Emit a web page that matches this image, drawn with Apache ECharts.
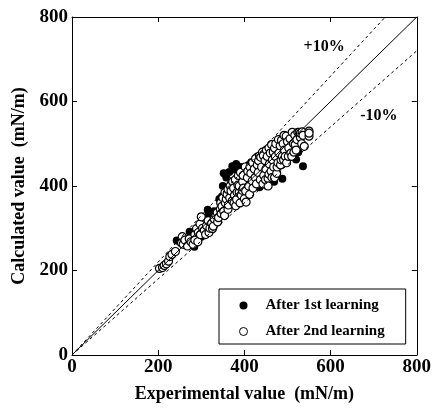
<!DOCTYPE html>
<html>
<head>
<meta charset="utf-8">
<script src="https://cdn.jsdelivr.net/npm/echarts@6/dist/echarts.min.js"></script>
<style>
html,body{margin:0;padding:0;background:#fff;}
#chart{width:434px;height:408px;}
</style>
</head>
<body>
<div id="chart"></div>
<script>
// axis ticks
var axisTicks = [0, 200, 400, 600, 800];

// reference lines
var lineEqual = [[0, 0], [800, 800]];
var linePlus10 = [[0, 0], [727, 800]];
var lineMinus10 = [[0, 0], [800, 720]];
var bandLabels = [[585, 729, '+10%'], [712, 565, '-10%']];

// After 1st learning (filled)
var firstLearning = [
  [243,271],[250,268],[273,292],[284,256],[290,275],[300,280],[306,290],[315,344],[317,332],
  [322,320],[330,340],[342,369],[348,375],[350,400],[352,430],[358,420],[365,433],[368,405],
  [372,447],[372,412],[378,440],[381,452],[384,433],[388,420],[392,445],[400,440],[405,415],
  [410,450],[416,456],[420,430],[425,460],[430,470],[435,397],[440,420],[445,450],[453,400],
  [460,440],[469,410],[475,460],[480,485],[488,417],[492,494],[495,480],[500,510],[505,495],
  [512,500],[520,463],[525,480],[536,447]
];

// After 2nd learning (open)
var secondLearning = [
  [203,205],[210,207],[214,212],[219,216],[224,222],[227,233],[232,238],[240,245],
  [254,265],[256,280],[258,262],[262,272],[268,258],[272,275],[276,268],[281,262],[285,285],
  [285,272],[289,299],[292,268],[293,290],[297,310],[298,285],[300,327],[303,300],[307,295],
  [310,285],[312,306],[316,318],[318,290],[320,300],[324,312],[326,299],[328,305],[330,322],
  [334,330],[337,337],[338,315],[340,325],[344,345],[345,360],[346,335],[348,352],[350,372],
  [352,340],[354,330],[355,385],[356,360],[358,369],[360,380],[362,345],[362,392],[363,355],
  [366,372],[367,400],[369,388],[372,365],[373,410],[375,395],[376,360],[377,378],[379,415],
  [380,353],[382,368],[383,385],[385,402],[386,425],[388,385],[388,400],[390,360],[391,432],
  [393,378],[395,390],[396,410],[397,425],[398,395],[400,370],[402,445],[403,388],[404,362],
  [407,420],[408,435],[410,400],[412,380],[413,445],[415,430],[418,412],[419,455],[420,395],
  [423,440],[425,420],[426,465],[428,405],[430,450],[432,432],[433,460],[435,471],[437,415],
  [438,468],[440,445],[442,480],[443,405],[444,472],[445,425],[448,460],[449,415],[450,440],
  [451,485],[453,470],[455,418],[455,400],[457,428],[457,490],[458,452],[460,478],[462,435],
  [463,498],[464,420],[465,462],[467,480],[468,445],[470,490],[470,420],[472,470],[473,500],
  [475,430],[476,445],[478,455],[479,510],[480,478],[483,495],[484,450],[485,462],[486,508],
  [488,470],[490,500],[491,462],[492,520],[493,485],[495,470],[497,518],[498,455],[500,505],
  [502,470],[503,490],[506,512],[508,478],[510,470],[511,527],[514,500],[515,480],[517,520],
  [518,498],[520,485],[522,510],[524,527],[527,527],[530,515],[530,525],[533,500],[534,528],
  [536,520],[539,494],[550,530],[550,518],[550,525]
];

var serif = '"Liberation Serif", "DejaVu Serif", serif';
var chart = echarts.init(document.getElementById('chart'));

function axisBase(show) {
  return {
    type: 'value', min: 0, max: 800, interval: 200,
    axisLine: { show: true, onZero: false, lineStyle: { color: '#000', width: 1 } },
    axisTick: { show: true, inside: true, length: 5, lineStyle: { color: '#000' } },
    splitLine: { show: false },
    axisLabel: { show: show, color: '#000', fontFamily: serif, fontWeight: 'bold', fontSize: 19 }
  };
}

var xMain = axisBase(true);
xMain.position = 'bottom';
xMain.name = 'Experimental value  (mN/m)';
xMain.nameLocation = 'middle';
xMain.nameGap = 30;
xMain.nameTextStyle = { color: '#000', fontFamily: serif, fontWeight: 'bold', fontSize: 18 };
xMain.axisLabel.margin = 3;
var xTop = axisBase(false);
xTop.position = 'top';

var yMain = axisBase(true);
yMain.position = 'left';
yMain.name = 'Calculated value  (mN/m)';
yMain.nameLocation = 'middle';
yMain.nameGap = 44;
yMain.nameTextStyle = { color: '#000', fontFamily: serif, fontWeight: 'bold', fontSize: 18 };
yMain.axisLabel.margin = 4;
var yRight = axisBase(false);
yRight.position = 'right';

chart.setOption({
  animation: false,
  backgroundColor: '#fff',
  grid: { left: 72, right: 16, top: 17, bottom: 51 },
  xAxis: [xMain, xTop],
  yAxis: [yMain, yRight],
  legend: {
    data: [
      { name: 'After 1st learning' },
      { name: 'After 2nd learning', itemStyle: { borderWidth: 1 } }
    ],
    orient: 'vertical',
    left: 219, top: 289,
    padding: [9, 21, 5, 20],
    itemGap: 11,
    itemWidth: 8, itemHeight: 8,
    backgroundColor: '#fff',
    borderColor: '#000', borderWidth: 1, borderRadius: 0,
    textStyle: { color: '#000', fontFamily: serif, fontWeight: 'bold', fontSize: 15, padding: [0, 0, 0, 13] }
  },
  series: [
    { type: 'line', data: lineEqual, showSymbol: false, silent: true,
      lineStyle: { color: '#000', width: 1 } },
    { type: 'line', data: linePlus10, showSymbol: false, silent: true,
      lineStyle: { color: '#000', width: 1, type: [3, 3] } },
    { type: 'line', data: lineMinus10, showSymbol: false, silent: true,
      lineStyle: { color: '#000', width: 1, type: [3, 3] } },
    { type: 'scatter', data: bandLabels, symbolSize: 0, silent: true,
      itemStyle: { opacity: 1 },
      label: { show: true, position: 'inside', color: '#000', fontFamily: serif, fontWeight: 'bold', fontSize: 16,
        formatter: function (p) { return p.data[2]; } } },
    { name: 'After 1st learning', type: 'scatter', data: firstLearning, symbol: 'circle', symbolSize: 8,
      itemStyle: { color: '#000', opacity: 1 } },
    { name: 'After 2nd learning', type: 'scatter', data: secondLearning, symbol: 'circle', symbolSize: 8,
      itemStyle: { color: '#fff', borderColor: '#000', borderWidth: 1.2, opacity: 1 } }
  ]
});
</script>
</body>
</html>
